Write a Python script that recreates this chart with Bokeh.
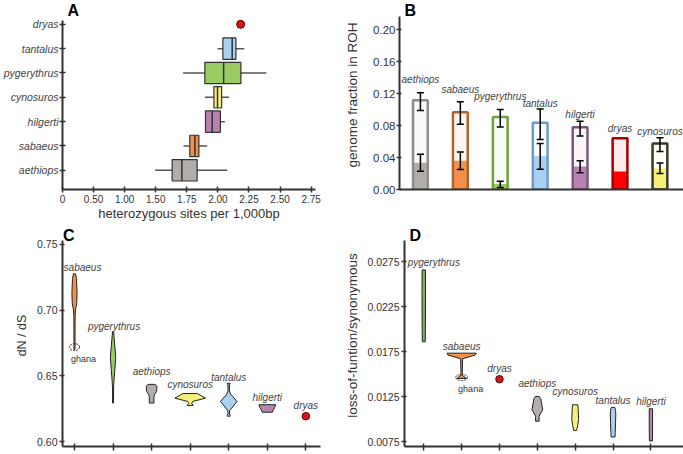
import numpy as np
from bokeh.plotting import figure
from bokeh.layouts import row, column
from bokeh.models import (Range1d, FixedTicker, ColumnDataSource, Whisker, TeeHead, Label,
                          NumeralTickFormatter, CustomLabelingPolicy)
from bokeh.embed import file_html
from bokeh.resources import INLINE
from bokeh.core.properties import value

FONT = "Liberation Sans"
TXT = "#333333"

colors = {
    "aethiops": "#b2ada8",
    "sabaeus": "#f2914c",
    "hilgerti": "#b883b0",
    "cynosuros": "#f6f07a",
    "pygerythrus": "#9acb62",
    "tantalus": "#a9d0ee",
    "dryas": "#d5141c",
}
b_edges = {
    "aethiops": "#8f8b87", "sabaeus": "#b5612a", "pygerythrus": "#6ea33e",
    "tantalus": "#6b9bc8", "hilgerti": "#7b5878", "dryas": "#a30000", "cynosuros": "#3a3a2a",
}
b_fills = dict(colors, dryas="#ff0000")
d_colors = dict(colors, pygerythrus="#88ad62")

# ---------------- Panel A data (heterozygosity) ----------------
a_species = ["aethiops", "sabaeus", "hilgerti", "cynosuros", "pygerythrus", "tantalus"]
a_whisk_lo = [1.49, 1.723, 1.90, 1.895, 1.72, 1.997]
a_q1 = [1.632, 1.774, 1.90, 1.968, 1.895, 2.04]
a_median = [1.71, 1.815, 1.954, 1.997, 2.046, 2.115]
a_q3 = [1.833, 1.847, 2.02, 2.03, 2.185, 2.145]
a_whisk_hi = [2.075, 1.914, 2.056, 2.09, 2.39, 2.212]
a_point_species = "dryas"
a_point_value = 2.183
a_tick_values = [0, 0.5, 1.0, 1.5, 1.75, 2.0, 2.25, 2.5, 2.75]

# ---------------- Panel B data (ROH) ----------------
b_species = ["aethiops", "sabaeus", "pygerythrus", "tantalus", "hilgerti", "dryas", "cynosuros"]
b_total = [0.1117, 0.0967, 0.0908, 0.0833, 0.0779, 0.0642, 0.0575]
b_part = [0.0333, 0.0358, 0.0070, 0.0420, 0.0288, 0.0225, 0.0263]
b_total_lo = [0.0988, 0.0817, 0.0780, 0.0625, 0.0670, None, 0.0475]
b_total_hi = [0.1210, 0.1096, 0.1000, 0.1008, 0.0854, None, 0.0646]
b_part_lo = [0.0229, 0.0250, 0.0025, 0.0254, 0.0210, None, 0.0200]
b_part_hi = [0.0440, 0.0470, 0.0104, 0.0575, 0.0360, None, 0.0330]
b_ticks = [0.00, 0.04, 0.08, 0.12, 0.16, 0.20]
b_label_dy = [-13, -12, -13, -5, -7, -10, -6]   # label lift in px

# ---------------- Panel C data (dN/dS violins) ----------------
c_species = ["sabaeus", "pygerythrus", "aethiops", "cynosuros", "tantalus", "hilgerti", "dryas"]
c_vals = {
    "sabaeus": [0.7275, 0.724, 0.713, 0.705, 0.700, 0.695, 0.670],
    "pygerythrus": [0.6835, 0.675, 0.664, 0.655, 0.645, 0.640, 0.6293],
    "aethiops": [0.6435, 0.6428, 0.642, 0.638, 0.636, 0.634, 0.6293],
    "cynosuros": [0.6365, 0.633, 0.6305, 0.629, 0.6275],
    "tantalus": [0.6443, 0.6430, 0.6385, 0.636, 0.6305, 0.625, 0.6235, 0.621, 0.620, 0.6193],
    "hilgerti": [0.628, 0.626, 0.6245, 0.6223],
}
c_halfw = {
    "sabaeus": [0.026, 0.052, 0.067, 0.057, 0.026, 0.016, 0.013],
    "pygerythrus": [0.013, 0.039, 0.070, 0.047, 0.021, 0.013, 0.013],
    "aethiops": [0.065, 0.117, 0.137, 0.130, 0.078, 0.060, 0.060],
    "cynosuros": [0.189, 0.396, 0.065, 0.039, 0.078],
    "tantalus": [0.039, 0.021, 0.016, 0.052, 0.215, 0.065, 0.021, 0.021, 0.039, 0.039],
    "hilgerti": [0.215, 0.194, 0.163, 0.130],
}
c_point = {"dryas": 0.6193}
c_ghana = 0.6718
c_ticks = [0.60, 0.65, 0.70, 0.75]
c_label_dx = [8, 1, 0, 0, 0, 0, 0]
c_label_dy = [-6, -5, -13, -9, -6, -7, -11]

# ---------------- Panel D data (LoF/synonymous violins) ----------------
d_species = ["pygerythrus", "sabaeus", "dryas", "aethiops", "cynosuros", "tantalus", "hilgerti"]
d_vals = {
    "pygerythrus": [0.02659, 0.0245, 0.0210, 0.01862],
    "sabaeus": [0.01735, 0.01715, 0.01673, 0.0150, 0.0149, 0.01454],
    "aethiops": [0.01254, 0.0123, 0.0117, 0.01107, 0.0106, 0.01035, 0.0098],
    "cynosuros": [0.01162, 0.0112, 0.0100, 0.0093, 0.00877],
    "tantalus": [0.01133, 0.0110, 0.0105, 0.0095, 0.0085, 0.00805],
    "hilgerti": [0.01118, 0.0090, 0.00761],
}
d_halfw = {
    "pygerythrus": [0.044, 0.047, 0.044, 0.039],
    "sabaeus": [0.388, 0.362, 0.026, 0.016, 0.016, 0.129],
    "aethiops": [0.052, 0.090, 0.116, 0.142, 0.078, 0.047, 0.047],
    "cynosuros": [0.070, 0.078, 0.090, 0.065, 0.039],
    "tantalus": [0.047, 0.067, 0.072, 0.065, 0.057, 0.052],
    "hilgerti": [0.044, 0.044, 0.039],
}
d_point = {"dryas": 0.01446}
d_ghana = 0.01465
d_ticks = [0.0075, 0.0125, 0.0175, 0.0225, 0.0275]
d_label_dx = [10, 0, 0, 0, 0, 0, 0]
d_label_dy = [-7, -7, -11, -13, -13, -7, -7]


def style(p):
    p.grid.visible = False
    p.outline_line_color = None
    p.background_fill_color = "white"
    p.border_fill_color = "white"
    for ax in p.axis:
        ax.axis_line_width = 2
        ax.axis_line_color = "#333333"
        ax.major_tick_line_color = "#333333"
        ax.major_tick_line_width = 1.5
        ax.minor_tick_line_color = None
        ax.major_label_text_font = FONT
        ax.major_label_text_color = TXT
        ax.axis_label_text_font = FONT
        ax.axis_label_text_color = TXT
        ax.axis_label_text_font_style = "normal"


def panel_label(p, txt, x, y):
    p.add_layout(Label(x=x, y=y, text=txt, text_font=FONT, text_font_size="16px",
                       text_font_style="bold", text_baseline="top", text_align="left",
                       text_color="black"))


def brk(v):
    return np.interp(v, a_tick_values, np.arange(len(a_tick_values)))


# ================= Panel A =================
pA = figure(width=342, height=224, x_range=Range1d(0, 8.14), y_range=Range1d(-0.79, 6.98),
            output_backend="svg", toolbar_location=None,
            min_border_left=61, min_border_right=27, min_border_top=0, min_border_bottom=34)
style(pA)
ya = np.arange(len(a_species))
pA.segment(x0=brk(a_whisk_lo), x1=brk(a_whisk_hi), y0=ya, y1=ya, line_color="#555555", line_width=1.5)
pA.hbar(y=ya, left=brk(a_q1), right=brk(a_q3), height=0.88,
        fill_color=[colors[s] for s in a_species], line_color="#333333", line_width=1.2)
pA.segment(x0=brk(a_median), x1=brk(a_median), y0=ya - 0.44, y1=ya + 0.44,
           line_color="#333333", line_width=1.5)
pA.scatter(x=brk([a_point_value]), y=[len(a_species)], size=8,
           fill_color=colors["dryas"], line_color="#5a0000", line_width=1)
all_a = a_species + [a_point_species]
pA.yaxis.ticker = FixedTicker(ticks=list(range(len(all_a))))
pA.yaxis.major_label_overrides = {i: s for i, s in enumerate(all_a)}
pA.yaxis.major_label_text_font_style = "italic"
pA.yaxis.major_label_text_font_size = "10.5px"
pA.yaxis.major_label_text_color = "#444444"
pA.yaxis.major_tick_in = 3
pA.yaxis.major_tick_out = 3
pA.yaxis.major_label_standoff = 1
pA.yaxis.bounds = (-0.79, 6.16)
pA.xaxis.ticker = FixedTicker(ticks=list(range(len(a_tick_values))))
pA.xaxis.major_label_overrides = {i: ("0" if v == 0 else f"{v:.2f}") for i, v in enumerate(a_tick_values)}
pA.xaxis.major_label_text_font_size = "10px"
pA.xaxis.major_tick_in = 3
pA.xaxis.major_tick_out = 3
pA.xaxis.major_label_standoff = 2
pA.xaxis.axis_label = "heterozygous sites per 1,000bp"
pA.xaxis.axis_label_text_font_size = "13px"
pA.xaxis.axis_label_standoff = 0
panel_label(pA, "A", 0.16, 6.90)

# ================= Panel B =================
pB = figure(width=341, height=224, x_range=Range1d(-0.524, 6.59), y_range=Range1d(0, 0.2363),
            output_backend="svg", toolbar_location=None,
            min_border_left=56, min_border_right=0, min_border_top=0, min_border_bottom=35)
style(pB)
xb = np.arange(len(b_species))
bw = 0.37
pB.vbar(x=xb, top=b_total, bottom=0, width=bw, fill_color="white", line_color=None)
pB.vbar(x=xb, top=b_total, bottom=0, width=bw, fill_color=[b_fills[s] for s in b_species],
        fill_alpha=0.08, line_color=None)
pB.vbar(x=xb, top=b_part, bottom=0, width=bw, fill_color=[b_fills[s] for s in b_species], line_color=None)
pB.vbar(x=xb, top=b_total, bottom=0, width=bw, fill_color=None,
        line_color=[b_edges[s] for s in b_species], line_width=2.5)
for lo, hi in ((b_total_lo, b_total_hi), (b_part_lo, b_part_hi)):
    keep = [i for i in range(len(b_species)) if lo[i] is not None]
    src = ColumnDataSource(dict(x=[float(xb[i]) for i in keep], lo=[lo[i] for i in keep],
                                hi=[hi[i] for i in keep]))
    pB.add_layout(Whisker(source=src, base="x", lower="lo", upper="hi", line_color="black",
                          line_width=1.5, level="overlay",
                          upper_head=TeeHead(size=7, line_width=1.5, line_color="black"),
                          lower_head=TeeHead(size=7, line_width=1.5, line_color="black")))
b_lab_y = [max(t, h) if h is not None else t for t, h in zip(b_total, b_total_hi)]
pB.text(x=xb, y=b_lab_y, text=b_species, y_offset=b_label_dy, text_align="center", text_baseline="middle",
        text_font=value(FONT), text_font_size="10px", text_font_style="italic", text_color="#444444")
pB.yaxis.ticker = FixedTicker(ticks=b_ticks)
pB.yaxis.formatter = NumeralTickFormatter(format="0.00")
pB.yaxis.major_label_text_font_size = "11.5px"
pB.yaxis.major_tick_in = 2
pB.yaxis.major_tick_out = 3
pB.yaxis.major_label_standoff = 1
pB.yaxis.axis_label = "genome fraction in ROH"
pB.yaxis.axis_label_text_font_size = "13.5px"
pB.yaxis.axis_label_standoff = 10
pB.yaxis.bounds = (0, 0.2158)
pB.xaxis.ticker = FixedTicker(ticks=[])
pB.xaxis.major_tick_line_color = None
panel_label(pB, "B", -0.40, 0.2338)

hide_labels = "for (const i of Array.from(indices)) { indices.unset(i) }\nreturn indices"


def violins(p, species, vals, halfw, points, cmap, ghana_idx, ghana_y, ghana_w, ghana_h,
            lab_dx, lab_dy, ticks, fmt):
    xs, ys, cols, tops, lab_x = [], [], [], [], []
    for i, s in enumerate(species):
        if s in vals:
            v = np.asarray(vals[s])
            w = np.asarray(halfw[s])
            xs.append(list(np.concatenate([i + w, (i - w)[::-1]])))
            ys.append(list(np.concatenate([v, v[::-1]])))
            cols.append(cmap[s])
            tops.append(float(v.max()))
        else:
            tops.append(points[s])
        lab_x.append(i)
    p.patches(xs=xs, ys=ys, fill_color=cols, line_color="#222222", line_width=1)
    for i, s in enumerate(species):
        if s in points:
            p.scatter(x=[i], y=[points[s]], size=7.5, fill_color=cmap[s], line_color="#5a0000", line_width=1)
    p.ellipse(x=[ghana_idx], y=[ghana_y], width=ghana_w, height=ghana_h, width_units="screen",
              height_units="screen", fill_color=None, line_color="#333333", line_dash="2 1", line_width=1)
    p.text(x=[ghana_idx], y=[ghana_y], text=["ghana"], x_offset=9, y_offset=12, text_align="center",
           text_baseline="middle", text_font=value(FONT), text_font_size="9px", text_color="#333333")
    p.text(x=lab_x, y=tops, text=species, x_offset=lab_dx, y_offset=lab_dy, text_align="center",
           text_baseline="middle", text_font=value(FONT), text_font_size="10px",
           text_font_style="italic", text_color="#444444")
    p.xaxis.ticker = FixedTicker(ticks=list(range(len(species))))
    p.xaxis.major_label_policy = CustomLabelingPolicy(code=hide_labels)
    p.xaxis.major_label_text_font_size = "1px"
    p.xaxis.major_label_standoff = 0
    p.xaxis.major_tick_in = 3
    p.xaxis.major_tick_out = 4
    p.yaxis.ticker = FixedTicker(ticks=ticks)
    p.yaxis.formatter = NumeralTickFormatter(format=fmt)
    p.yaxis.major_label_text_font_size = "10.5px"
    p.yaxis.major_tick_in = 2
    p.yaxis.major_tick_out = 3
    p.yaxis.major_label_standoff = 2


# ================= Panel C =================
pC = figure(width=342, height=230, x_range=Range1d(-0.311, 6.38), y_range=Range1d(0.59625, 0.765),
            output_backend="svg", toolbar_location=None,
            min_border_left=62, min_border_right=22, min_border_top=0, min_border_bottom=5)
style(pC)
violins(pC, c_species, c_vals, c_halfw, c_point, colors, 0, c_ghana, 10, 7,
        c_label_dx, c_label_dy, c_ticks, "0.00")
pC.yaxis.axis_label = "dN / dS"
pC.yaxis.axis_label_text_font_size = "12.5px"
pC.yaxis.axis_label_standoff = 5
pC.yaxis.bounds = (0.59625, 0.753)
panel_label(pC, "C", -0.30, 0.76275)

# ================= Panel D =================
pD = figure(width=341, height=230, x_range=Range1d(-0.509, 6.861), y_range=Range1d(0.00699, 0.03163),
            output_backend="svg", toolbar_location=None,
            min_border_left=56, min_border_right=0, min_border_top=0, min_border_bottom=5)
style(pD)
violins(pD, d_species, d_vals, d_halfw, d_point, d_colors, 1, d_ghana, 12, 6,
        d_label_dx, d_label_dy, d_ticks, "0.0000")
pD.yaxis.axis_label = "loss-of-funtion/synonymous"
pD.yaxis.axis_label_text_font_size = "13.5px"
pD.yaxis.axis_label_standoff = 4
pD.yaxis.bounds = (0.00699, 0.02988)
panel_label(pD, "D", -0.38, 0.0313)

layout = column(row(pA, pB), row(pC, pD))
open("out.html", "w").write(file_html(layout, INLINE))
